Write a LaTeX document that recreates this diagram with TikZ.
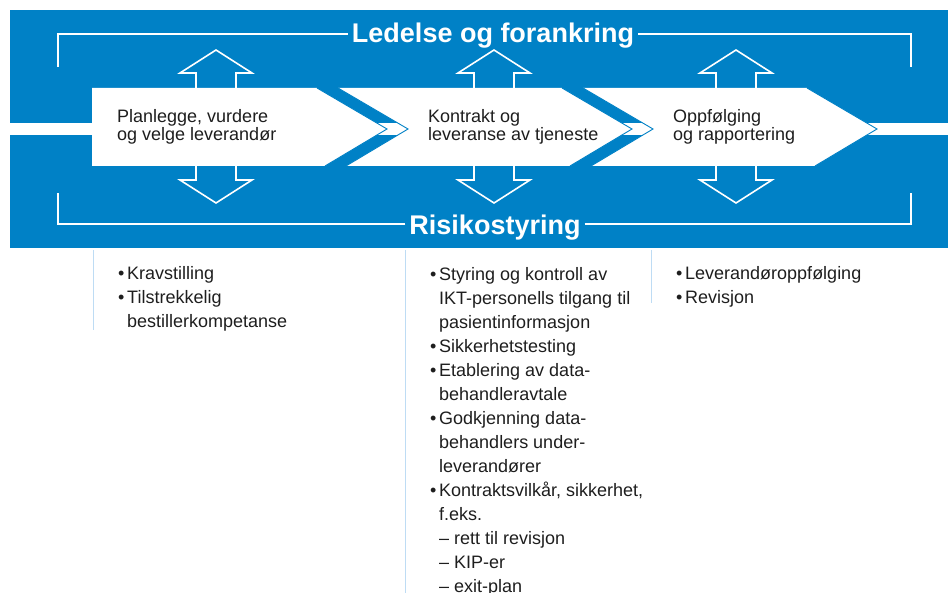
\documentclass[tikz,border=0pt]{standalone}
\usepackage{fontspec}
\setmainfont{Liberation Sans}
\usetikzlibrary{calc}
\definecolor{c0}{RGB}{0,129,198}
\definecolor{c1}{RGB}{30,30,30}
\definecolor{c2}{RGB}{190,220,244}
\tikzset{%
  heading/.style={font=\bfseries\fontsize{27}{30}\selectfont,text=white,inner xsep=4pt,inner ysep=0pt,anchor=base},
  steptext/.style={font=\fontsize{18}{18}\selectfont,text=c1,align=left,inner sep=0pt,anchor=base west},
  listtext/.style={font=\fontsize{18}{24}\selectfont,text=c1,align=left,inner sep=0pt,anchor=base west},
  bracket/.style={white,line width=2pt},
  hollow/.style={white,line width=1.6pt},
  tipline/.style={c0,line width=0.9pt},
  divider/.style={c2,line width=1pt}
}
\NewDocumentCommand\hollowArrows{m}{%
  \draw[hollow] (#1-20,88) -- (#1-20,73) -- (#1-36,73) -- (#1,50) -- (#1+36,73) -- (#1+20,73) -- (#1+20,88);
  \draw[hollow] (#1-20,166) -- (#1-20,180) -- (#1-36,180) -- (#1,203) -- (#1+36,180) -- (#1+20,180) -- (#1+20,166);
}
\NewDocumentCommand\bul{m}{\makebox[9pt][l]{•}#1}
\NewDocumentCommand\ind{m}{\hspace*{9pt}#1}

\begin{document}
\begin{tikzpicture}[x=1pt,y=-1pt]
  \useasboundingbox (0,0) rectangle (948,593);
  % Background
  \fill[c0] (10,10) rectangle (948,248);
  % Frame
  \coordinate (tl) at (58,34);
  \coordinate (tr) at (911,34);
  \coordinate (bl) at (58,224);
  \coordinate (br) at (911,224);
  \node[heading] (ledelse) at (493,43) {Ledelse og forankring};
  \node[heading] (risiko) at (495,235) {Risikostyring};
  \draw[bracket] (ledelse.west |- tl) -- (tl) -- ++(0,33);
  \draw[bracket] (ledelse.east |- tr) -- (tr) -- ++(0,33);
  \draw[bracket] (risiko.west |- bl) -- (bl) -- ++(0,-31);
  \draw[bracket] (risiko.east |- br) -- (br) -- ++(0,-31);
  % Steps
  \fill[white] (10,123) rectangle (948,135);
  \fill[white] (92,88) -- (317,88) -- (387,129) -- (325,166) -- (92,166) -- cycle;
  \fill[white] (338,88) -- (562,88) -- (632,129) -- (570,166) -- (346,166) -- (408,129) -- cycle;
  \fill[white] (583,88) -- (807,88) -- (877,129) -- (815,166) -- (591,166) -- (653,129) -- cycle;
  \foreach \t in {387,408,632,653,877}
    \draw[tipline] (\t-70,88) -- (\t,129) -- (\t-62,166);
  \hollowArrows{216}
  \hollowArrows{494}
  \hollowArrows{736}
  % (base = last line)
  \node[steptext] (plan) at (117,141) {Planlegge, vurdere\\og velge leverandør};
  \node[steptext] (kontrakt) at (428,141) {Kontrakt og\\leveranse av tjeneste};
  \node[steptext] (oppf) at (673,141) {Oppfølging\\og rapportering};
  % Lists
  \draw[divider] (93,250) -- (93,330);
  \draw[divider] (405,250) -- (405,593);
  \draw[divider] (651,250) -- (651,303);
  \node[listtext] (planlist) at (118,328) {\bul{Kravstilling}\\\bul{Tilstrekkelig}\\\ind{bestillerkompetanse}};
  \node[listtext] (kontraktlist) at (430,592) {\bul{Styring og kontroll av}\\\ind{IKT-personells tilgang til}\\\ind{pasientinformasjon}\\
    \bul{Sikkerhetstesting}\\\bul{Etablering av data-}\\\ind{behandleravtale}\\
    \bul{Godkjenning data-}\\\ind{behandlers under-}\\\ind{leverandører}\\
    \bul{Kontraktsvilkår, sikkerhet,}\\\ind{f.eks.}\\\ind{– rett til revisjon}\\\ind{– KIP-er}\\\ind{– exit-plan}};
  \node[listtext] (oppflist) at (676,304) {\bul{Leverandøroppfølging}\\\bul{Revisjon}};
\end{tikzpicture}
\end{document}
